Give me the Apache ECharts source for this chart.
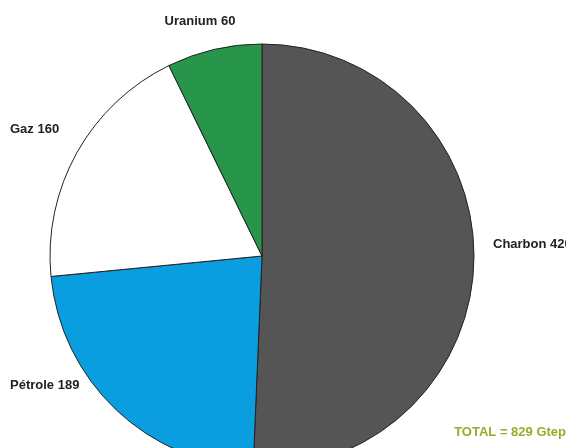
<!DOCTYPE html>
<html><head><meta charset="utf-8">
<script src="https://cdn.jsdelivr.net/npm/echarts@6/dist/echarts.min.js"></script>
<style>html,body{margin:0;padding:0;background:#fff}#c{width:566px;height:448px}</style>
</head><body><div id="c"></div>
<script>
var categories = ['Charbon', 'Pétrole', 'Gaz', 'Uranium'];
var values = [420, 189, 160, 60];
var colors = ['#555555', '#0a9de0', '#ffffff', '#27954a'];
var totalLabel = 'TOTAL = 829 Gtep';
var labelPos = [[493, 244, 'left'], [10, 385, 'left'], [10, 129, 'left'], [200, 21, 'center']];

var chart = echarts.init(document.getElementById('c'));
chart.setOption({
  animation: false,
  series: [{
    type: 'pie',
    center: [262, 256],
    radius: 212,
    startAngle: 90,
    clockwise: true,
    silent: true,
    data: categories.map(function (c, i) {
      return { name: c, value: values[i], itemStyle: { color: colors[i] } };
    }),
    itemStyle: { borderColor: '#222', borderWidth: 1 },
    label: {
      show: true,
      formatter: '{b} {c}',
      fontFamily: 'Liberation Sans, Arial, sans-serif',
      fontWeight: 'bold',
      fontSize: 13,
      color: '#222',
      overflow: 'none',
      width: 200
    },
    labelLine: { show: false },
    labelLayout: function (p) {
      var q = labelPos[p.dataIndex];
      return { x: q[0], y: q[1], align: q[2], verticalAlign: 'middle', width: 200 };
    }
  }],
  graphic: [{
    type: 'text',
    right: 0,
    top: 426,
    style: {
      text: totalLabel,
      fill: '#9aab2c',
      font: 'bold 13px "Liberation Sans", Arial, sans-serif'
    }
  }]
});
</script></body></html>
